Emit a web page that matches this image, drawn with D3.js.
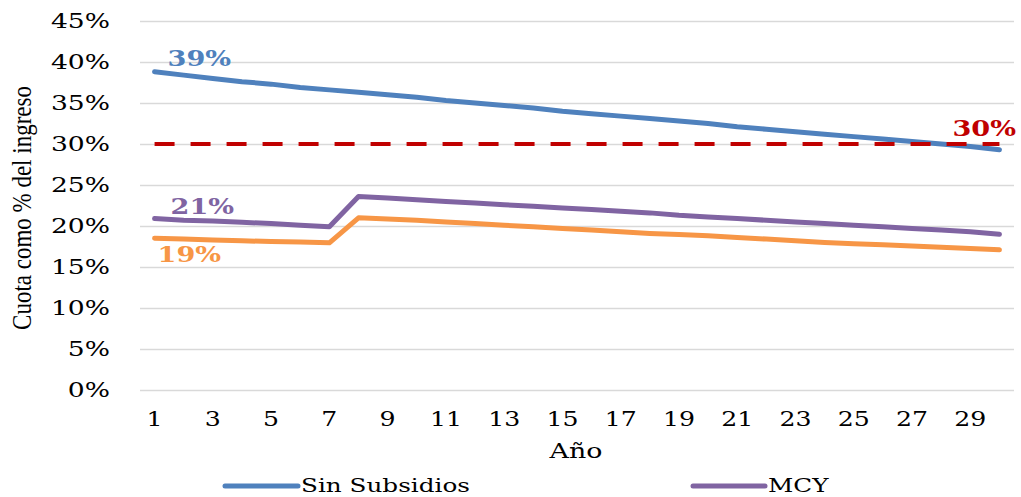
<!DOCTYPE html>
<html>
<head>
<meta charset="utf-8">
<script src="https://cdn.jsdelivr.net/npm/d3@7/dist/d3.min.js"></script>
<style>
  html, body { margin: 0; padding: 0; background: #fff; }
  svg { display: block; }
</style>
</head>
<body>
<svg id="chart" width="1021" height="497"></svg>
<script>
// ---------------- DATA ----------------
const years = d3.range(1, 31);
const sinSubsidios = [38.8, 38.4, 38.0, 37.6, 37.3, 36.9, 36.6, 36.3, 36.0, 35.7,
                      35.3, 35.0, 34.7, 34.4, 34.0, 33.7, 33.4, 33.1, 32.8, 32.5,
                      32.1, 31.8, 31.5, 31.2, 30.9, 30.6, 30.3, 30.0, 29.7, 29.3];
const mcy = [20.9, 20.7, 20.6, 20.45, 20.3, 20.1, 19.9, 23.6, 23.4, 23.2,
             23.0, 22.8, 22.6, 22.4, 22.2, 22.0, 21.8, 21.6, 21.3, 21.1,
             20.9, 20.7, 20.5, 20.3, 20.1, 19.9, 19.7, 19.5, 19.3, 19.0];
const tercera = [18.5, 18.4, 18.3, 18.2, 18.1, 18.05, 17.95, 21.0, 20.85, 20.7,
                 20.5, 20.3, 20.1, 19.9, 19.7, 19.5, 19.3, 19.1, 18.95, 18.8,
                 18.6, 18.4, 18.2, 18.0, 17.85, 17.7, 17.55, 17.4, 17.25, 17.1];
const limite = 30;
const yTicks = [0, 5, 10, 15, 20, 25, 30, 35, 40, 45];
const xTicks = d3.range(1, 31, 2);
const seriesNames = ["Sin Subsidios", "MCY"];
const annotations = [
  { text: "39%", year: 1, value: 38.8, color: "#4F81BD" },
  { text: "21%", year: 1, value: 20.9, color: "#8064A2" },
  { text: "19%", year: 1, value: 18.5, color: "#F79646" },
  { text: "30%", year: 30, value: 30, color: "#C00000" }
];
const yTitle = "Cuota como % del ingreso";
const xTitle = "Año";

// ---------------- LAYOUT ----------------
const svg = d3.select("#chart");
const plot = { left: 140, right: 1014, top: 21, bottom: 390 };
const colors = { blue: "#4F81BD", purple: "#8064A2", orange: "#F79646", red: "#C00000", grid: "#D9D9D9" };
const serif = "'DejaVu Serif', serif";

const x = d3.scaleBand().domain(years).range([plot.left, plot.right]).padding(0);
const xc = d => x(d) + x.bandwidth() / 2;
const y = d3.scaleLinear().domain([0, 45]).range([plot.bottom, plot.top]);

// stretched text helper
function stretchText(sel, sx) {
  sel.each(function () {
    const t = d3.select(this);
    const ox = +t.attr("x") || 0;
    t.attr("x", ox / sx).attr("transform", `scale(${sx},1)`);
  });
}

// gridlines
const grid = svg.append("g")
  .attr("transform", `translate(${plot.left},0)`)
  .call(d3.axisLeft(y).tickValues(yTicks).tickSize(-(plot.right - plot.left)).tickFormat(""));
grid.select(".domain").remove();
grid.selectAll("line").attr("stroke", colors.grid).attr("stroke-width", 1.5);

// y axis labels
const yAxis = svg.append("g")
  .attr("transform", `translate(${plot.left},0)`)
  .call(d3.axisLeft(y).tickValues(yTicks).tickSize(0).tickPadding(30).tickFormat(d => d + "%"));
yAxis.select(".domain").remove();
yAxis.selectAll("text")
  .attr("font-family", serif).attr("font-size", 20).attr("fill", "#000");
stretchText(yAxis.selectAll("text"), 1.33);

// x axis labels
const xAxis = svg.append("g")
  .attr("transform", `translate(0,${plot.bottom})`)
  .call(d3.axisBottom(x).tickValues(xTicks).tickSize(0).tickPadding(21));
xAxis.select(".domain").remove();
xAxis.selectAll("text")
  .attr("font-family", serif).attr("font-size", 21).attr("fill", "#000");
stretchText(xAxis.selectAll("text"), 1.2);

// axis titles
svg.append("text")
  .attr("transform", `translate(${31},${208}) rotate(-90) scale(1,1.22)`)
  .attr("text-anchor", "middle")
  .attr("font-family", "'Liberation Serif', serif")
  .attr("font-size", 23)
  .attr("fill", "#000")
  .text(yTitle);

svg.append("text")
  .attr("transform", `translate(${576},${458}) scale(1.28,1)`)
  .attr("text-anchor", "middle")
  .attr("font-family", serif)
  .attr("font-size", 21)
  .attr("fill", "#000")
  .text(xTitle);

// lines
const line = d3.line().x((d, i) => xc(years[i])).y(d => y(d));
function drawSeries(values, color, w) {
  svg.append("path")
    .datum(values)
    .attr("d", line)
    .attr("fill", "none")
    .attr("stroke", color)
    .attr("stroke-width", w)
    .attr("stroke-linejoin", "round")
    .attr("stroke-linecap", "round");
}
drawSeries(sinSubsidios, colors.blue, 5);
drawSeries(mcy, colors.purple, 5);
drawSeries(tercera, colors.orange, 5);

// red dashed 30% line
svg.append("path")
  .datum(years.map(() => limite))
  .attr("d", line)
  .attr("fill", "none")
  .attr("stroke", colors.red)
  .attr("stroke-width", 4)
  .attr("stroke-dasharray", "20,16");

// annotations
const annPos = [
  { dx: 13, dy: -6 },
  { dx: 16, dy: -5 },
  { dx: 3, dy: 24 },
  { dx: -47, dy: -8 }
];
annotations.forEach((a, i) => {
  const px = xc(a.year) + annPos[i].dx;
  const py = y(a.value) + annPos[i].dy;
  svg.append("text")
    .attr("transform", `translate(${px},${py}) scale(1.18,1)`)
    .attr("font-family", serif)
    .attr("font-weight", "bold")
    .attr("font-size", 23)
    .attr("fill", a.color)
    .text(a.text);
});

// legend
const legend = [
  { name: seriesNames[0], color: colors.blue, x1: 225, x2: 298 },
  { name: seriesNames[1], color: colors.purple, x1: 693, x2: 765 }
];
legend.forEach(l => {
  svg.append("line")
    .attr("x1", l.x1).attr("x2", l.x2).attr("y1", 486).attr("y2", 486)
    .attr("stroke", l.color).attr("stroke-width", 5).attr("stroke-linecap", "round");
  svg.append("text")
    .attr("transform", `translate(${l.x2 + 3},${492}) scale(1.3,1)`)
    .attr("font-family", serif)
    .attr("font-size", 19)
    .attr("fill", "#000")
    .text(l.name);
});
</script>
</body>
</html>
